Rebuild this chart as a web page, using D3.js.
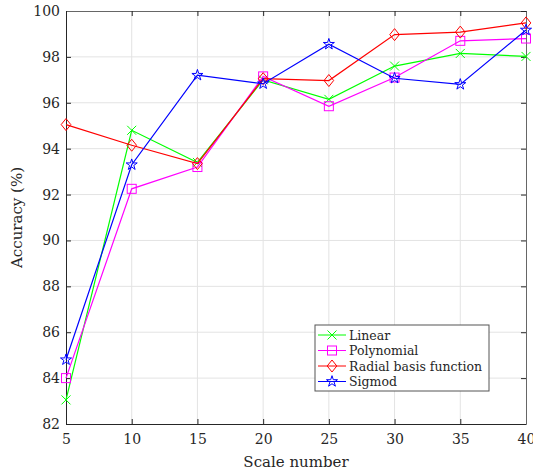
<!DOCTYPE html>
<html><head><meta charset="utf-8">
<script src="https://cdn.jsdelivr.net/npm/d3@7"></script>
<style>body{margin:0;background:#fff}</style>
</head><body><svg id="c" width="533" height="475"></svg>
<script>
const scales = [5,10,15,20,25,30,35,40];
const linear = [83.05,94.8,93.4,97.0,96.15,97.6,98.15,98.02];
const polynomial = [84.0,92.25,93.2,97.15,95.85,97.1,98.7,98.8];
const rbf = [95.05,94.15,93.35,97.05,96.97,98.97,99.08,99.48];
const sigmoid = [84.8,93.3,97.2,96.83,98.55,97.07,96.8,99.17];
const xTicks = [5,10,15,20,25,30,35,40];
const yTicks = [82,84,86,88,90,92,94,96,98,100];
const seriesNames = ["Linear","Polynomial","Radial basis function","Sigmod"];
const seriesColors = ["#00ff00","#ff00ff","#ff0000","#0000ff"];
const seriesMarkers = ["x","square","diamond","star"];
const seriesData = [linear,polynomial,rbf,sigmoid];

const svg = d3.select("#c");
const L=66,R=526,T=11,B=424;
const font="DejaVu Serif";
const x=d3.scaleLinear().domain([5,40]).range([L,R]);
const y=d3.scaleLinear().domain([82,100]).range([B,T]);

svg.append("g").selectAll("line").data(xTicks.slice(1,-1)).join("line")
 .attr("x1",d=>x(d)).attr("x2",d=>x(d)).attr("y1",T).attr("y2",B)
 .attr("stroke","#e3e3e3").attr("stroke-width",1);
svg.append("g").selectAll("line").data(yTicks.slice(1,-1)).join("line")
 .attr("y1",d=>y(d)).attr("y2",d=>y(d)).attr("x1",L).attr("x2",R)
 .attr("stroke","#e3e3e3").attr("stroke-width",1);

const ax=svg.append("g").attr("transform",`translate(0,${B})`)
 .call(d3.axisBottom(x).tickValues(xTicks).tickSizeInner(-5).tickSizeOuter(0).tickPadding(10));
const ay=svg.append("g").attr("transform",`translate(${L},0)`)
 .call(d3.axisLeft(y).tickValues(yTicks).tickSizeInner(-5).tickSizeOuter(0).tickPadding(6));
const axt=svg.append("g").attr("transform",`translate(0,${T})`)
 .call(d3.axisTop(x).tickValues(xTicks).tickSizeInner(-5).tickSizeOuter(0).tickFormat(""));
const ayr=svg.append("g").attr("transform",`translate(${R},0)`)
 .call(d3.axisRight(y).tickValues(yTicks).tickSizeInner(-5).tickSizeOuter(0).tickFormat(""));
[ax,ay,axt,ayr].forEach(g=>{
  g.selectAll("path,line").attr("stroke","#262626");
  g.selectAll("text").attr("font-family",font).attr("font-size",14).attr("fill","#262626");
});
axt.selectAll("path").attr("stroke","#666");
ayr.selectAll("path").attr("stroke","#666");

svg.append("text").attr("x",(L+R)/2).attr("y",467).attr("text-anchor","middle")
 .attr("font-family",font).attr("font-size",15).attr("fill","#262626").text("Scale number");
svg.append("text").attr("transform",`translate(22,${(T+B)/2}) rotate(-90)`).attr("text-anchor","middle")
 .attr("font-family",font).attr("font-size",15).attr("fill","#262626").text("Accuracy (%)");

function marker(g,type,cx,cy,color){
  const s=4.5;
  if(type==="x"){
    g.append("path").attr("d",`M${cx-s},${cy-s}L${cx+s},${cy+s}M${cx-s},${cy+s}L${cx+s},${cy-s}`)
     .attr("stroke",color).attr("fill","none");
  } else if(type==="square"){
    g.append("rect").attr("x",cx-s).attr("y",cy-s).attr("width",2*s).attr("height",2*s)
     .attr("stroke",color).attr("fill","none");
  } else if(type==="diamond"){
    const d=6;
    g.append("path").attr("d",`M${cx},${cy-d}L${cx+d*0.8},${cy}L${cx},${cy+d}L${cx-d*0.8},${cy}Z`)
     .attr("stroke",color).attr("fill","none");
  } else {
    g.append("path").attr("d",d3.symbol(d3.symbolStar,38)()).attr("transform",`translate(${cx},${cy})`)
     .attr("stroke",color).attr("fill","none");
  }
}

const line=d3.line().x((d,i)=>x(scales[i])).y(d=>y(d));
seriesData.forEach((data,k)=>{
  const g=svg.append("g");
  g.append("path").datum(data).attr("d",line).attr("fill","none").attr("stroke",seriesColors[k]).attr("stroke-width",1.2);
  data.forEach((v,i)=>marker(g,seriesMarkers[k],x(scales[i]),y(v),seriesColors[k]));
});

const lg=svg.append("g");
lg.append("rect").attr("x",315).attr("y",325).attr("width",174).attr("height",66)
 .attr("fill","#fff").attr("stroke","#555").attr("stroke-width",1);
seriesNames.forEach((n,k)=>{
  const yy=335+k*15.5;
  lg.append("line").attr("x1",318).attr("x2",346).attr("y1",yy).attr("y2",yy).attr("stroke",seriesColors[k]);
  marker(lg,seriesMarkers[k],332,yy,seriesColors[k]);
  lg.append("text").attr("x",349).attr("y",yy+4.5).attr("font-family",font).attr("font-size",12.5)
   .attr("fill","#262626").text(n);
});
</script></body></html>
